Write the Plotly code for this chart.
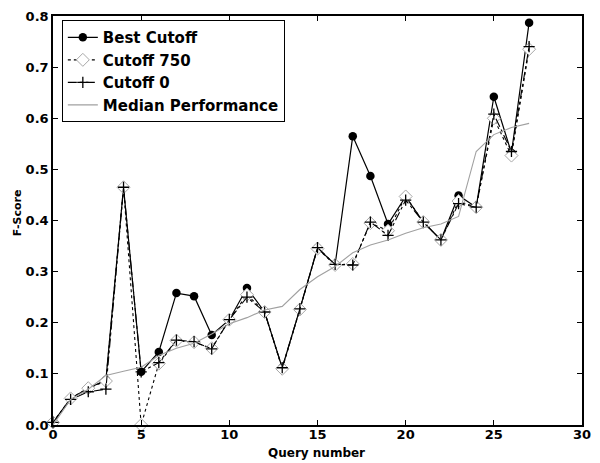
import plotly.graph_objects as go

query = list(range(28))
best_cutoff = [0.005, 0.052, 0.072, 0.088, 0.465, 0.104, 0.143, 0.258, 0.252, 0.176,
               0.206, 0.268, 0.221, 0.112, 0.227, 0.346, 0.314, 0.565, 0.487, 0.393,
               0.447, 0.397, 0.362, 0.449, 0.426, 0.642, 0.532, 0.787]
cutoff_750 = [0.005, 0.052, 0.072, 0.086, 0.465, 0.0, 0.120, 0.165, 0.162, 0.150,
              0.206, 0.255, 0.221, 0.110, 0.226, 0.345, 0.313, 0.315, 0.395, 0.380,
              0.447, 0.397, 0.362, 0.438, 0.426, 0.600, 0.527, 0.735]
cutoff_0 = [0.005, 0.050, 0.065, 0.070, 0.465, 0.104, 0.122, 0.166, 0.163, 0.149,
            0.206, 0.250, 0.221, 0.112, 0.227, 0.347, 0.314, 0.313, 0.397, 0.371,
            0.440, 0.397, 0.362, 0.433, 0.426, 0.608, 0.535, 0.740]
median_perf = [0.0, 0.050, 0.070, 0.097, 0.105, 0.113, 0.136, 0.150, 0.160, 0.178,
               0.198, 0.210, 0.225, 0.232, 0.265, 0.290, 0.310, 0.337, 0.352, 0.362,
               0.375, 0.386, 0.393, 0.408, 0.535, 0.568, 0.582, 0.590]

x_ticks = [0, 5, 10, 15, 20, 25, 30]
y_ticks = [0.0, 0.1, 0.2, 0.3, 0.4, 0.5, 0.6, 0.7, 0.8]
y_tick_text = ["0.0", "0.1", "0.2", "0.3", "0.4", "0.5", "0.6", "0.7", "0.8"]

FONT = "DejaVu Sans"

fig = go.Figure()
fig.add_trace(go.Scatter(
    x=query, y=best_cutoff, name="Best Cutoff", mode="lines+markers",
    line=dict(color="black", width=1.2),
    marker=dict(symbol="circle", size=8.5, color="black"),
    cliponaxis=False))
fig.add_trace(go.Scatter(
    x=query, y=cutoff_750, name="Cutoff 750", mode="lines+markers",
    line=dict(color="black", width=1.1, dash="dot"),
    marker=dict(symbol="diamond", size=10, color="white",
                line=dict(color="#a8a8a8", width=1)),
    cliponaxis=False))
fig.add_trace(go.Scatter(
    x=query, y=cutoff_0, name="Cutoff 0", mode="lines+markers",
    line=dict(color="black", width=1.1, dash="dashdot"),
    marker=dict(symbol="cross-thin", size=8, color="black",
                line=dict(color="black", width=1.3)),
    cliponaxis=False))
fig.add_trace(go.Scatter(
    x=query, y=median_perf, name="Median Performance", mode="lines",
    line=dict(color="#a0a0a0", width=1.1),
    cliponaxis=False))

axis_common = dict(
    showline=True, linecolor="black", linewidth=1.5, mirror="ticks",
    ticks="inside", ticklen=5, tickwidth=1, tickcolor="black",
    showgrid=False, zeroline=False,
    tickfont=dict(family=FONT, size=13, color="black", weight="bold"),
)

fig.update_layout(
    width=600, height=463,
    margin=dict(l=53, r=9, t=13, b=38),
    paper_bgcolor="white", plot_bgcolor="white",
    font=dict(family=FONT, color="black"),
    showlegend=True,
    legend=dict(
        x=0.0167, y=0.99, xanchor="left", yanchor="top",
        bgcolor="white", bordercolor="black", borderwidth=1,
        font=dict(family=FONT, size=15, color="black", weight="bold"),
        tracegroupgap=0,
    ),
    xaxis=dict(range=[0, 30], tickvals=x_ticks, ticklabelstandoff=-3,
               **axis_common),
    yaxis=dict(range=[0, 0.8], tickvals=y_ticks, ticktext=y_tick_text,
               **axis_common),
    annotations=[
        dict(text="Query number", xref="paper", yref="paper",
             x=0.498, y=-0.068, xanchor="center", yanchor="middle",
             showarrow=False,
             font=dict(family=FONT, size=12, color="black", weight="bold")),
        dict(text="F-Score", xref="paper", yref="paper",
             x=-0.067, y=0.519, xanchor="center", yanchor="middle",
             textangle=-90, showarrow=False,
             font=dict(family=FONT, size=11, color="black", weight="bold")),
    ],
)

fig.write_html("out.html",
               config={"displayModeBar": False},
               post_script="document.body.style.margin='0';document.body.style.padding='0';")
